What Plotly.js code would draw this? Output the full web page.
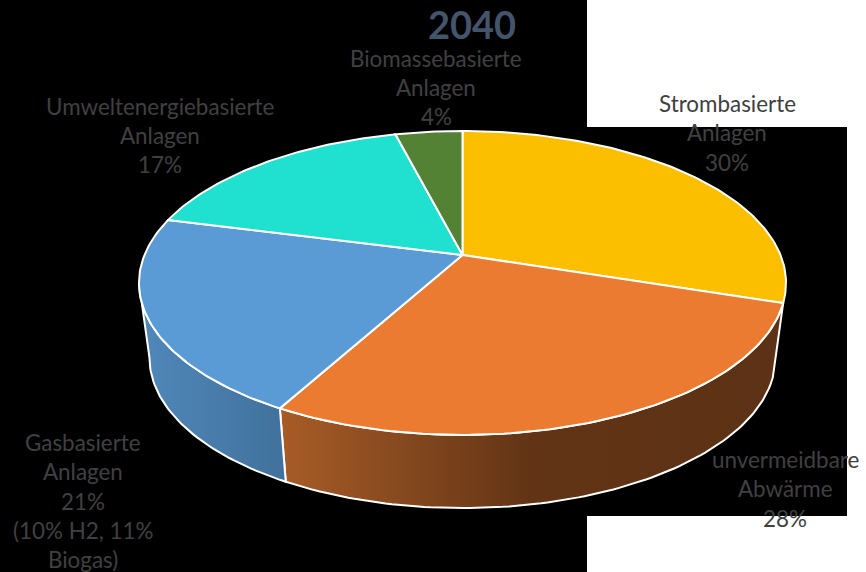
<!DOCTYPE html>
<html>
<head>
<meta charset="utf-8">
<script src="https://cdn.plot.ly/plotly-3.0.1.min.js"></script>
<style>html,body{margin:0;padding:0;background:#000}#chart{width:866px;height:572px}</style>
</head>
<body>
<div id="chart"></div>
<script>
// Heat supply shares for 2040
const categories = [
  ['Strombasierte', 'Anlagen'],
  ['unvermeidbare', 'Abwärme'],
  ['Gasbasierte', 'Anlagen'],
  ['Umweltenergiebasierte', 'Anlagen'],
  ['Biomassebasierte', 'Anlagen']
];
const shares = [30, 28, 21, 17, 4];
const labelNotes = ['', '', '(10% H2, 11%|Biogas)', '', ''];
const topColors = ['#FBBF00', '#EB7B30', '#5B9BD5', '#20E0D0', '#548235'];
const sideGradients = [
  null,
  [[0, '#A85C27'], [0.5, '#623415'], [1, '#5C3115']],
  [[0, '#4F88BA'], [1, '#41719C']],
  null,
  null
];
const chartTitle = '2040';

// Perspective disc: unit circle seen from above, clockwise from twelve o'clock
const tilt = 0.184;
const topDisc = {cx: 462.5, cy: 255, rx: 318, ry: 146.8};
const baseDisc = {cx: 462.5, cy: 330, rx: 307.7, ry: 145.3};
const tangent = Math.acos(-tilt) * 180 / Math.PI;

function rim(disc, deg) {
  const a = deg * Math.PI / 180;
  const u = Math.sin(a), v = -Math.cos(a), d = 1 - tilt * v;
  return [disc.cx + disc.rx * u / d, disc.cy + disc.ry * v / d];
}
function arc(disc, from, to) {
  const n = Math.max(2, Math.ceil(Math.abs(to - from)));
  const pts = [];
  for (let i = 0; i <= n; i++) pts.push(rim(disc, from + (to - from) * i / n));
  return pts;
}
function polygon(pts, color, gradient) {
  const t = {
    type: 'scatter', mode: 'lines', hoverinfo: 'skip', showlegend: false,
    x: pts.map(p => p[0]), y: pts.map(p => p[1]),
    fill: 'toself', line: {color: '#FFFFFF', width: 2}
  };
  if (gradient) t.fillgradient = {type: 'horizontal', colorscale: gradient};
  else t.fillcolor = color;
  return t;
}

const total = shares.reduce((s, v) => s + v, 0);
const sides = [], tops = [];
let start = 0;
shares.forEach((value, i) => {
  const end = start + value / total * 360;
  tops.push(polygon([[topDisc.cx, topDisc.cy], ...arc(topDisc, start, end), [topDisc.cx, topDisc.cy]], topColors[i]));
  if (sideGradients[i]) {
    // Only the front-facing part of the wall is visible
    const a = Math.max(start, tangent), b = Math.min(end, 360 - tangent);
    const upper = arc(topDisc, start, b);
    const lower = arc(baseDisc, b, a);
    sides.push(polygon([...upper, ...lower, upper[0]], null, sideGradients[i]));
  }
  start = end;
});

// Label block centres, one row per text line
const labelAnchors = [
  {x: 727, y: 103.5}, {x: 785, y: 459.5}, {x: 83, y: 442.5}, {x: 160, y: 106}, {x: 436, y: 58}
];
const rowHeight = 29.3;
const annotations = [{
  xref: 'x', yref: 'y', x: 472, y: 24, text: '<b>' + chartTitle + '</b>', showarrow: false,
  font: {family: 'Lato, sans-serif', size: 38, color: '#44546A'}
}];
categories.forEach((lines, i) => {
  const rows = [...lines, shares[i] + '%'];
  if (labelNotes[i]) rows.push(...labelNotes[i].split('|'));
  rows.forEach((text, r) => annotations.push({
    xref: 'x', yref: 'y', x: labelAnchors[i].x, y: labelAnchors[i].y + r * rowHeight,
    text, showarrow: false,
    font: {family: 'Lato, sans-serif', size: 22.4, color: '#404040'}
  }));
});

const layout = {
  width: 866, height: 572,
  margin: {l: 0, r: 0, t: 0, b: 0},
  paper_bgcolor: '#000000', plot_bgcolor: '#000000',
  xaxis: {range: [0, 866], visible: false, fixedrange: true},
  yaxis: {range: [572, 0], visible: false, fixedrange: true},
  showlegend: false,
  annotations,
  shapes: [
    {type: 'rect', xref: 'x', yref: 'y', x0: 587, x1: 866, y0: 0, y1: 127, fillcolor: '#FFFFFF', line: {width: 0}, layer: 'below'},
    {type: 'rect', xref: 'x', yref: 'y', x0: 587, x1: 866, y0: 516, y1: 572, fillcolor: '#FFFFFF', line: {width: 0}, layer: 'below'},
    {type: 'rect', xref: 'x', yref: 'y', x0: 847, x1: 866, y0: 0, y1: 572, fillcolor: '#FFFFFF', line: {width: 0}, layer: 'below'}
  ]
};
Plotly.newPlot('chart', [...sides, ...tops], layout, {displayModeBar: false, staticPlot: true});
</script>
</body>
</html>
